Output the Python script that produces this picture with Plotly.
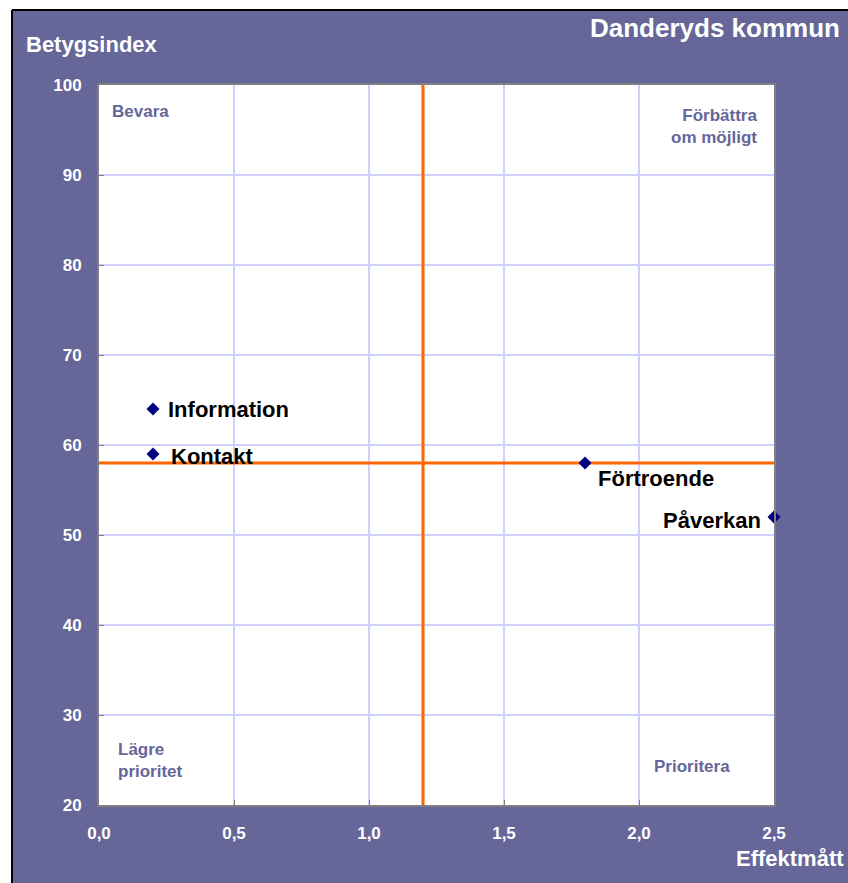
import plotly.graph_objects as go

# ---- data ----
labels = ["Information", "Kontakt", "Förtroende", "Påverkan"]
effekt = [0.2, 0.2, 1.8, 2.5]
betyg = [64, 59, 58, 52]
x_ticks = [0.0, 0.5, 1.0, 1.5, 2.0, 2.5]
x_ticktext = ["0,0", "0,5", "1,0", "1,5", "2,0", "2,5"]
y_ticks = [20, 30, 40, 50, 60, 70, 80, 90, 100]
x_ref = 1.2
y_ref = 58
quadrants = ["Bevara", "Förbättra<br>om möjligt", "Lägre<br>prioritet", "Prioritera"]

W, H = 848, 883
# plot area in page pixels
L, R, T, B = 99, 774, 85, 805
PURPLE = "#666699"
FONT = "Liberation Sans, Arial, sans-serif"


def px(x):
    return (x - L) / (R - L)


def py(y):
    return (B - y) / (B - T)


fig = go.Figure()
fig.add_trace(go.Scatter(
    x=effekt, y=betyg, mode="markers",
    marker=dict(symbol="diamond", size=10, color="#000080"),
    cliponaxis=False, hoverinfo="skip", showlegend=False,
))

shapes = [
    dict(type="line", xref="x", yref="y", x0=x_ref, x1=x_ref, y0=20, y1=100,
         line=dict(color="#FF6600", width=3), layer="between"),
    dict(type="line", xref="x", yref="y", x0=0, x1=2.5, y0=y_ref, y1=y_ref,
         line=dict(color="#FF6600", width=3), layer="between"),
    # white margin strips and black frame
    dict(type="rect", xref="paper", yref="paper", x0=px(-5), x1=px(W + 20), y0=py(-5), y1=py(10.5),
         fillcolor="white", line=dict(width=0), layer="above"),
    dict(type="rect", xref="paper", yref="paper", x0=px(-5), x1=px(12.5), y0=py(-5), y1=py(H + 20),
         fillcolor="white", line=dict(width=0), layer="above"),
    dict(type="line", xref="paper", yref="paper", x0=px(12), x1=px(W + 20), y0=py(10), y1=py(10),
         line=dict(color="black", width=2), layer="above"),
    dict(type="line", xref="paper", yref="paper", x0=px(12), x1=px(12), y0=py(10), y1=py(H + 20),
         line=dict(color="black", width=2), layer="above"),
]

label_font = dict(family=FONT, size=22, color="black")
shifts = [(13, 0, "left"), (16, -2, "left"), (11, -15, "left"), (-11, -3, "right")]
annotations = []
for lab, xv, yv, (dx, dy, anc) in zip(labels, effekt, betyg, shifts):
    annotations.append(dict(x=xv, y=yv, xref="x", yref="y", text="<b>%s</b>" % lab,
                            showarrow=False, xanchor=anc, yanchor="middle",
                            xshift=dx, yshift=dy, font=label_font))

qfont = dict(family=FONT, size=17, color=PURPLE)
qpos = [(110, 112, "left"), (759, 126, "right"), (116, 760, "left"), (652, 766, "left")]
for q, (qx, qy, anc) in zip(quadrants, qpos):
    annotations.append(dict(x=px(qx), y=py(qy), xref="paper", yref="paper",
                            text="<b>%s</b>" % q, showarrow=False, xanchor=anc,
                            yanchor="middle", align=anc, font=qfont))

white = dict(family=FONT, color="white")
annotations += [
    dict(x=px(24), y=py(45), xref="paper", yref="paper", text="<b>Betygsindex</b>",
         showarrow=False, xanchor="left", yanchor="middle", font=dict(size=22, **white)),
    dict(x=px(846), y=py(858), xref="paper", yref="paper", text="<b>Effektmått</b>",
         showarrow=False, xanchor="right", yanchor="middle", font=dict(size=22, **white)),
    dict(x=px(588), y=py(28), xref="paper", yref="paper", text="<b>Danderyds kommun</b>",
         showarrow=False, xanchor="left", yanchor="middle", font=dict(size=26, **white)),
]

axis_common = dict(
    showgrid=True, gridcolor="#D0D0FF", gridwidth=2,
    showline=True, linecolor="#808080", linewidth=2, mirror=True,
    ticks="inside", ticklen=5, tickcolor="#808080",
    tickfont=dict(family=FONT, size=17, color="white"),
    zeroline=False, fixedrange=True,
)

fig.update_layout(
    width=W, height=H,
    margin=dict(l=L, r=W - R, t=T, b=H - B, pad=0),
    paper_bgcolor=PURPLE, plot_bgcolor="white",
    xaxis=dict(range=[0, 2.5], tickvals=x_ticks, ticktext=["<b>%s</b>" % t for t in x_ticktext],
               ticklabelstandoff=12, **axis_common),
    yaxis=dict(range=[20, 100], tickvals=y_ticks, ticktext=["<b>%d</b>" % t for t in y_ticks],
               ticklabelstandoff=12, **axis_common),
    shapes=shapes, annotations=annotations, showlegend=False,
)

fig.write_html(
    "out.html",
    config={"displayModeBar": False},
    post_script="document.body.style.margin='0';document.body.style.overflow='hidden';",
)
